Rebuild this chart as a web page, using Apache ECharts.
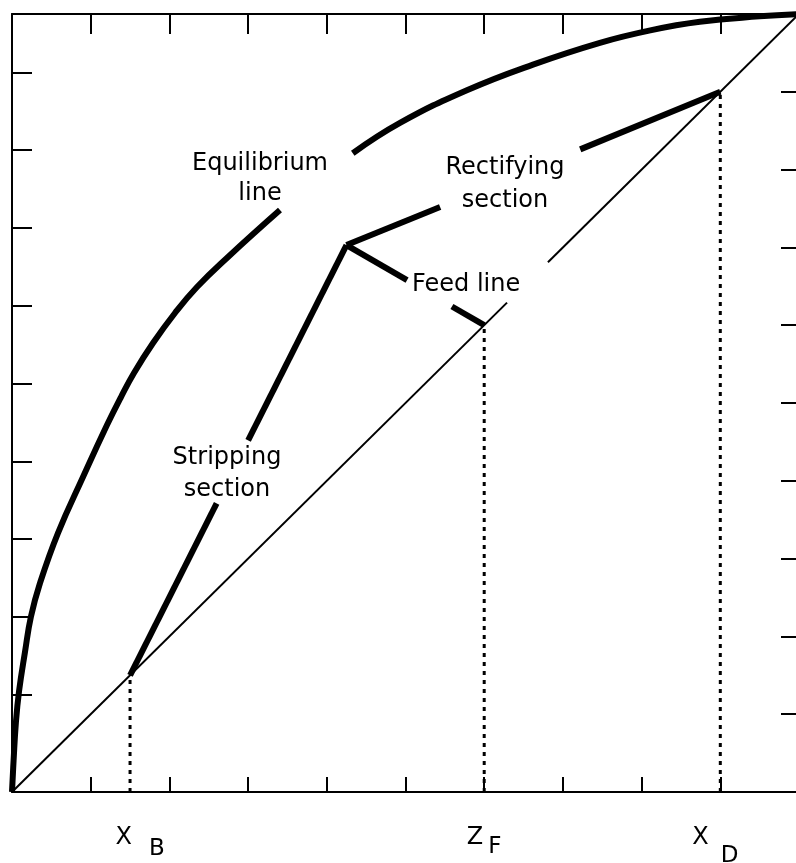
<!DOCTYPE html>
<html>
<head>
<meta charset="utf-8">
<script src="https://cdn.jsdelivr.net/npm/echarts@6/dist/echarts.min.js"></script>
<style>
  html, body { margin: 0; padding: 0; background: #fff; }
  #chart { width: 796px; height: 863px; }
</style>
</head>
<body>
<div id="chart"></div>
<script>
// McCabe-Thiele diagram: liquid mole fraction x against vapour mole fraction y

// Key compositions
const xB = 0.15;   // bottoms
const zF = 0.60;   // feed
const xD = 0.90;   // distillate
const pinch = [0.425, 0.703]; // meeting point of the two operating lines and the feed line

// Equilibrium curve, in two pieces either side of its label
const equilibriumLower = [
  [0, 0], [0.002, 0.04], [0.005, 0.09], [0.009, 0.13], [0.0165, 0.18],
  [0.024, 0.225], [0.0356, 0.2686], [0.0584, 0.3329], [0.0902, 0.4049],
  [0.1207, 0.4717], [0.1385, 0.5077], [0.155, 0.5386], [0.1792, 0.5771],
  [0.2071, 0.6157], [0.2351, 0.6491], [0.2745, 0.6877], [0.3405, 0.748]
];
const equilibriumUpper = [
  [0.433, 0.821], [0.493, 0.86], [0.578, 0.902], [0.662, 0.935], [0.747, 0.963],
  [0.811, 0.979], [0.874, 0.99], [0.95, 0.997], [1, 1]
];

// 45-degree line y = x (drawn with a break)
const diagonalA = [[0, 0], [0.629, 0.629]];
const diagonalB = [[0.681, 0.681], [1, 1]];

// Operating lines and feed line, each interrupted by its label
const strippingA  = [[xB, xB], [0.26, 0.371]];
const strippingB  = [[0.30, 0.452], pinch];
const rectifyingA = [pinch, [0.544, 0.752]];
const rectifyingB = [[0.722, 0.826], [xD, xD]];
const feedA       = [pinch, [0.502, 0.658]];
const feedB       = [[0.559, 0.624], [zF, zF]];

// Drop lines from the diagonal to the x axis
const dropB = [[xB, 0], [xB, xB]];
const dropF = [[zF, 0], [zF, zF]];
const dropD = [[xD, 0], [xD, xD]];

// Left-hand tick marks as printed on the frame
const leftTicks = [0.125, 0.225, 0.325, 0.425, 0.525, 0.625, 0.725, 0.825, 0.925];

const INK = '#000';
const FONT = '"DejaVu Sans", "Liberation Sans", sans-serif';

function lineSeries(data, width, type) {
  return {
    type: 'line',
    data: data,
    showSymbol: false,
    symbol: 'none',
    silent: true,
    lineStyle: { color: INK, width: width, type: type || 'solid', cap: 'butt' }
  };
}

function curveSeries(data) {
  const s = lineSeries(data, 6);
  s.smooth = 0.45;
  return s;
}

const axisLine = { show: true, onZero: false, lineStyle: { color: INK, width: 2 } };

const option = {
  animation: false,
  backgroundColor: '#fff',
  grid: { left: 12, right: -3, top: 14, bottom: 71, containLabel: false, outerBoundsMode: 'none' },
  xAxis: [
    {
      type: 'value', min: 0, max: 1, interval: 0.1, position: 'bottom',
      axisLine: axisLine,
      axisTick: { show: true, inside: true, length: 15, lineStyle: { color: INK, width: 2 } },
      splitLine: { show: false },
      axisLabel: {
        show: true,
        customValues: [xB, zF, xD],
        margin: 34,
        color: INK,
        fontFamily: FONT,
        fontSize: 24,
        formatter: function (v) {
          if (Math.abs(v - xB) < 1e-6) return '{mb|X}{sb|B}';
          if (Math.abs(v - zF) < 1e-6) return '{m|Z}{sf|F}';
          return '{m|X}{sd|D}';
        },
        rich: {
          m:  { fontSize: 24, fontFamily: FONT, color: INK, verticalAlign: 'top', lineHeight: 24 },
          mb: { fontSize: 24, fontFamily: FONT, color: INK, verticalAlign: 'top', lineHeight: 24, padding: [0, 0, 0, 20] },
          sb: { fontSize: 23, fontFamily: FONT, color: INK, verticalAlign: 'top', lineHeight: 24, padding: [12, 0, 0, 17] },
          sf: { fontSize: 23, fontFamily: FONT, color: INK, verticalAlign: 'top', lineHeight: 24, padding: [10, 0, 0, 5] },
          sd: { fontSize: 23, fontFamily: FONT, color: INK, verticalAlign: 'top', lineHeight: 24, padding: [19, 10, 0, 12] }
        }
      }
    },
    {
      type: 'value', min: 0, max: 1, interval: 0.1, position: 'top',
      axisLine: axisLine,
      axisTick: { show: true, inside: true, length: 20, lineStyle: { color: INK, width: 2 } },
      axisLabel: { show: false },
      splitLine: { show: false }
    }
  ],
  yAxis: [
    {
      type: 'value', min: 0, max: 1, interval: 0.1, position: 'left',
      axisLine: axisLine,
      axisTick: { show: true, inside: true, length: 20, customValues: leftTicks, lineStyle: { color: INK, width: 2 } },
      axisLabel: { show: false },
      splitLine: { show: false }
    },
    {
      type: 'value', min: 0, max: 1, interval: 0.1, position: 'right',
      axisLine: axisLine,
      axisTick: { show: true, inside: true, length: 18, lineStyle: { color: INK, width: 2 } },
      axisLabel: { show: false },
      splitLine: { show: false }
    }
  ],
  series: [
    lineSeries(diagonalA, 2),
    lineSeries(diagonalB, 2),
    curveSeries(equilibriumLower),
    curveSeries(equilibriumUpper),
    lineSeries(strippingA, 6),
    lineSeries(strippingB, 6),
    lineSeries(rectifyingA, 6),
    lineSeries(rectifyingB, 6),
    lineSeries(feedA, 6),
    lineSeries(feedB, 6),
    lineSeries(dropB, 3, [4, 5]),
    lineSeries(dropF, 3, [4, 5]),
    lineSeries(dropD, 3, [4, 5])
  ],
  graphic: [
    { type: 'text', x: 260, y: 179, silent: true,
      style: { text: 'Equilibrium\nline', font: '24px ' + FONT, fill: INK, textAlign: 'center', textVerticalAlign: 'middle', lineHeight: 30 } },
    { type: 'text', x: 505, y: 184, silent: true,
      style: { text: 'Rectifying\nsection', font: '24px ' + FONT, fill: INK, textAlign: 'center', textVerticalAlign: 'middle', lineHeight: 33 } },
    { type: 'text', x: 412, y: 285, silent: true,
      style: { text: 'Feed line', font: '24px ' + FONT, fill: INK, textAlign: 'left', textVerticalAlign: 'middle' } },
    { type: 'text', x: 227, y: 474, silent: true,
      style: { text: 'Stripping\nsection', font: '24px ' + FONT, fill: INK, textAlign: 'center', textVerticalAlign: 'middle', lineHeight: 32 } }
  ]
};

const chart = echarts.init(document.getElementById('chart'), null, { renderer: 'canvas' });
chart.setOption(option);
</script>
</body>
</html>
